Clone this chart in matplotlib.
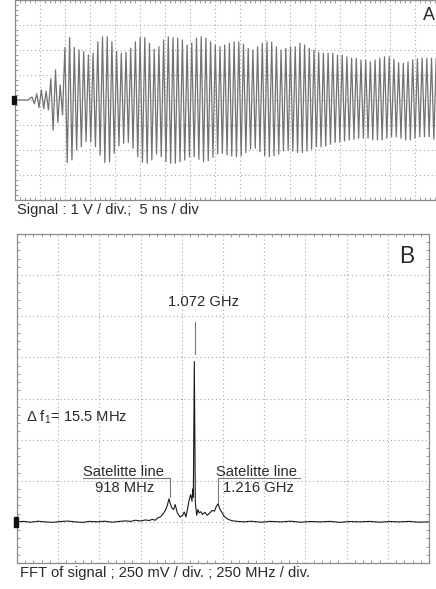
import matplotlib.pyplot as plt
import matplotlib.transforms as mtransforms
from matplotlib.patches import Rectangle
from matplotlib.ticker import MultipleLocator

plt.rcParams["font.family"] = ["Liberation Sans", "DejaVu Sans"]
plt.rcParams["mathtext.fontset"] = "custom"
plt.rcParams["mathtext.rm"] = "Liberation Sans"
plt.rcParams["mathtext.it"] = "Liberation Sans"

# panel A: peak values of each carrier cycle (V)
top_v = [0.12, 0.25, 0.40, 0.35, 0.85, 1.20, 0.60, 2.10, 2.50, 2.10,
         2.00, 1.93, 1.80, 1.87, 2.33, 2.53, 2.53, 2.33, 1.93, 1.87,
         1.90, 2.07, 2.33, 2.50, 2.50, 2.27, 2.03, 2.13, 2.40, 2.53,
         2.50, 2.47, 2.40, 2.20, 2.29, 2.47, 2.53, 2.47, 2.33, 2.20,
         2.13, 2.20, 2.27, 2.33, 2.32, 2.24, 2.07, 2.00, 2.13, 2.27,
         2.33, 2.32, 2.13, 2.00, 2.07, 2.13, 2.13, 2.27, 2.20, 2.07,
         2.00, 1.90, 1.87, 1.87, 1.87, 1.80, 1.80, 1.73, 1.67, 1.67,
         1.60, 1.60, 1.53, 1.60, 1.67, 1.73, 1.73, 1.63, 1.49, 1.47,
         1.52, 1.60, 1.65, 1.67, 1.67, 1.67, 1.67, 1.65]
bot_v = [-0.15, -0.30, -0.35, -0.40, -1.20, -0.90, -0.60, -2.50, -2.40, -2.00,
         -1.87, -1.67, -1.67, -1.87, -2.20, -2.50, -2.47, -2.13, -1.84, -1.73,
         -1.70, -1.93, -2.27, -2.49, -2.53, -2.40, -2.16, -2.27, -2.47, -2.53,
         -2.53, -2.47, -2.40, -2.27, -2.27, -2.37, -2.47, -2.43, -2.29, -2.16,
         -2.13, -2.19, -2.24, -2.27, -2.23, -2.10, -1.97, -1.93, -2.07, -2.23,
         -2.27, -2.23, -2.16, -2.03, -2.00, -2.04, -2.10, -2.10, -2.04, -1.96,
         -1.87, -1.87, -1.84, -1.77, -1.70, -1.67, -1.64, -1.60, -1.57, -1.53,
         -1.53, -1.53, -1.60, -1.60, -1.60, -1.53, -1.47, -1.47, -1.53, -1.60,
         -1.60, -1.53, -1.47, -1.47, -1.47, -1.57, -1.60, -1.60]
period_ns = 0.94
t_first = 3.4

# panel B: FFT trace
freq_mhz = [0, 40, 80, 130, 170, 220, 260, 310, 350, 400, 440, 490, 530, 580,
            620, 660, 690, 720, 750, 780, 800, 820, 840, 855, 870, 886, 900,
            912, 922, 930, 940, 950, 960, 973, 989, 1005, 1015, 1025, 1033,
            1046, 1054, 1062, 1066, 1070, 1076, 1082, 1090, 1098, 1105, 1115,
            1125, 1140, 1155, 1170, 1185, 1198, 1210, 1220, 1230, 1242, 1256,
            1274, 1290, 1310, 1340, 1380, 1420, 1480, 1540, 1600, 1660, 1720,
            1780, 1840, 1900, 1960, 2020, 2080, 2140, 2200, 2260, 2320, 2380,
            2440, 2500]
amp_mv = [0, 3, -2, 4, 0, -3, 2, 5, 0, -3, 3, 0, 4, -2,
          3, 6, 3, 10, 5, 12, 8, 15, 10, 25, 30, 49, 70,
          100, 140, 110, 85, 75, 105, 55, 30, 40, 60, 30, 70,
          140, 165, 125, 200, 150, 975, 120, 40, 75, 55, 62,
          45, 58, 40, 55, 70, 65, 95, 110, 80, 60, 35,
          20, 12, 6, 3, 0, 4, -2, 3, 0, 4, -2,
          2, 0, 3, -3, 2, 0, 3, -2, 2, 0, 3,
          -2, 0]

W, H = 436, 589
fig = plt.figure(figsize=(W / 100, H / 100), dpi=100)
fig.patch.set_facecolor("white")

grid_kw = dict(color="#a8a8a8", linestyle=(0, (1, 2.5)), linewidth=0.8)
txt = "#2a2a2a"


def scope_axes(ax):
    for s in ax.spines.values():
        s.set_color("#8a8a8a")
        s.set_linewidth(0.9)
    ax.tick_params(which="both", direction="in", top=True, right=True,
                   labelbottom=False, labelleft=False, color="#8a8a8a")
    ax.tick_params(which="major", length=0)
    ax.tick_params(which="minor", length=2.5, width=0.6)
    ax.grid(True, which="major", **grid_kw)
    ax.set_axisbelow(True)


# ---- panel A ----
axA = fig.add_axes([15 / W, 1 - 200 / H, 430 / W, 200 / H])
t_list = [0.0, 2.6]
v_list = [0.0, 0.0]
for k, (a, b) in enumerate(zip(top_v, bot_v)):
    t_list += [t_first + k * period_ns, t_first + (k + 0.5) * period_ns]
    v_list += [a, b]
axA.plot(t_list, v_list, color="#727272", linewidth=0.9)
axA.set_xlim(0, 86)
axA.set_ylim(-4, 4)
axA.xaxis.set_major_locator(MultipleLocator(5))
axA.xaxis.set_minor_locator(MultipleLocator(1))
axA.yaxis.set_major_locator(MultipleLocator(1))
axA.yaxis.set_minor_locator(MultipleLocator(0.2))
scope_axes(axA)
trA = mtransforms.blended_transform_factory(axA.transAxes, axA.transData)
axA.add_patch(Rectangle((-0.008, -0.15), 0.01, 0.3, transform=trA,
                        color="#111111", clip_on=False, zorder=5))
fig.text(429 / W, 1 - 15 / H, "A", fontsize=13, color=txt, ha="center", va="center")
fig.text(17 / W, 1 - 210 / H, "Signal : 1 V / div.;  5 ns / div", fontsize=10.6,
         color=txt, ha="left", va="center")

# ---- panel B ----
axB = fig.add_axes([17 / W, (H - 563) / H, 412 / W, 329 / H])
axB.plot(freq_mhz, amp_mv, color="#1a1a1a", linewidth=0.8)
axB.set_xlim(0, 2500)
axB.set_ylim(-250, 1750)
axB.xaxis.set_major_locator(MultipleLocator(250))
axB.xaxis.set_minor_locator(MultipleLocator(50))
axB.yaxis.set_major_locator(MultipleLocator(250))
axB.yaxis.set_minor_locator(MultipleLocator(50))
scope_axes(axB)
trB = mtransforms.blended_transform_factory(axB.transAxes, axB.transData)
axB.add_patch(Rectangle((-0.008, -30), 0.01, 60, transform=trB,
                        color="#111111", clip_on=False, zorder=5))

lead = dict(color="#7a7a7a", linewidth=0.8)
axB.plot([1080, 1080], [1020, 1216], **lead)
axB.plot([400, 930, 930], [267, 267, 150], **lead)
axB.plot([1720, 1220, 1220], [267, 267, 115], **lead)

axB.text(1129, 1338, "1.072 GHz", fontsize=10.6, color=txt, ha="center", va="center")
axB.text(55, 638, r"Δ f$_\mathregular{1}$= 15.5 MHz", fontsize=10.6, color=txt,
         ha="left", va="center")
axB.text(649, 304, "Satelitte line", fontsize=10.6, color=txt, ha="center", va="center")
axB.text(655, 207, "918 MHz", fontsize=10.6, color=txt, ha="center", va="center")
axB.text(1456, 304, "Satelitte line", fontsize=10.6, color=txt, ha="center", va="center")
axB.text(1462, 207, "1.216 GHz", fontsize=10.6, color=txt, ha="center", va="center")
axB.text(0.947, 0.933, "B", transform=axB.transAxes, fontsize=16.5, color=txt,
         ha="center", va="center")

fig.text(20 / W, 1 - 573 / H, "FFT of signal ; 250 mV / div. ; 250 MHz / div.",
         fontsize=10.6, color=txt, ha="left", va="center")

fig.savefig("out.png", dpi=100, facecolor="white")
